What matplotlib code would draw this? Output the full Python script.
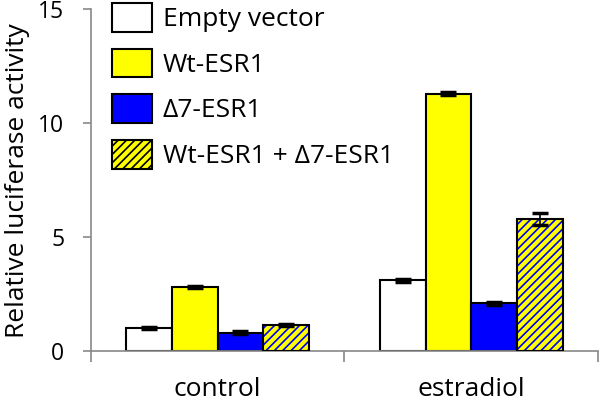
import numpy as np
import matplotlib.pyplot as plt
from matplotlib.patches import Patch

plt.rcParams['font.family'] = ['Open Sans', 'DejaVu Sans']
plt.rcParams['hatch.linewidth'] = 1.2

## data
conditions = ['control', 'estradiol']
series = ['Empty vector', 'Wt-ESR1', '\u03947-ESR1', 'Wt-ESR1 + \u03947-ESR1']
values = [[1.0, 3.1],
          [2.8, 11.3],
          [0.8, 2.1],
          [1.15, 5.8]]
errors = [[0.05, 0.05],
          [0.05, 0.06],
          [0.07, 0.07],
          [0.04, 0.25]]
faces = ['white', '#ffff00', '#0000ff', '#ffff00']

fig, ax = plt.subplots(figsize=(6, 4.04), dpi=100)
fig.subplots_adjust(left=0.151, right=0.997, bottom=0.131, top=0.977)

x = np.arange(len(conditions))
w = 0.18
for i, (vals, errs) in enumerate(zip(values, errors)):
    pos = x + (i - 1.5) * w
    if i == 3:
        ax.bar(pos, vals, w, color=faces[i], edgecolor='#0000ff', hatch='////', lw=0, zorder=2)
        ax.bar(pos, vals, w, fill=False, edgecolor='black', lw=1.5, zorder=3)
    else:
        ax.bar(pos, vals, w, color=faces[i], edgecolor='black', lw=1.5, zorder=2)
    ax.errorbar(pos, vals, yerr=errs, fmt='none', ecolor='black', elinewidth=1.2,
                capsize=6, capthick=2.5, zorder=4)

ax.set_xlim(-0.5, 1.5)
ax.set_ylim(0, 15)
ax.set_yticks([0, 5, 10, 15])
ax.set_xticks([-0.5, 0.5, 1.5])
ax.set_xticklabels([])
ax.set_xticks(x, minor=True)
ax.set_xticklabels(conditions, minor=True)
ax.tick_params(axis='x', which='minor', length=0, pad=19, labelsize=19)
ax.tick_params(axis='x', which='major', length=8, color='#888888', width=1.2, direction='out')
ax.tick_params(axis='y', length=6, color='#888888', width=1.2, labelsize=16.5, pad=13)
for s in ['top', 'right']:
    ax.spines[s].set_visible(False)
for s in ['left', 'bottom']:
    ax.spines[s].set_color('#888888')
    ax.spines[s].set_linewidth(1.2)
ax.set_ylabel('Relative luciferase activity', fontsize=19, labelpad=6)

handles = []
for i, lab in enumerate(series):
    if i == 3:
        handles.append(Patch(facecolor=faces[i], edgecolor='black', hatch='////', lw=1.5, label=lab))
    else:
        handles.append(Patch(facecolor=faces[i], edgecolor='black', lw=1.5, label=lab))
leg = fig.legend(handles=handles, loc='upper left', bbox_to_anchor=(112 / 600, 1 - 3 / 404),
                 frameon=False, fontsize=19, handlelength=1.5, handleheight=1.3,
                 labelspacing=0.62, handletextpad=0.42, borderpad=0, borderaxespad=0)

fig.savefig('out.png')
